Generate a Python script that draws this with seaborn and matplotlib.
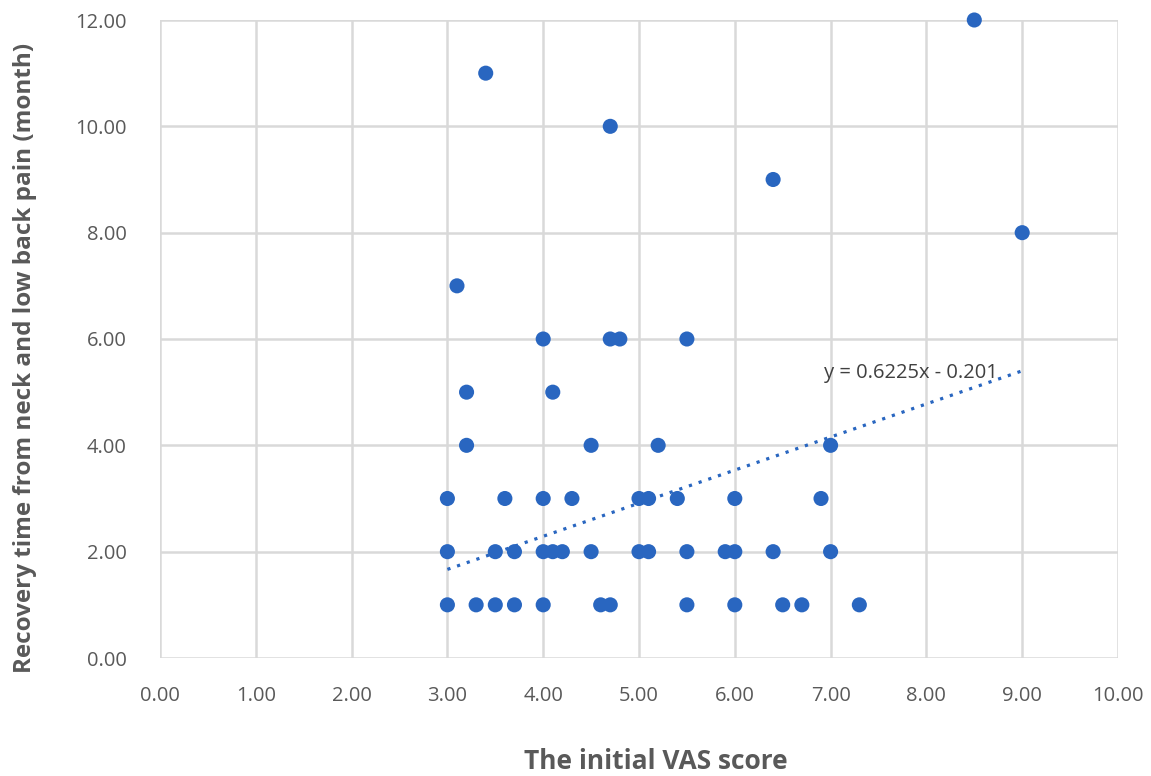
import matplotlib
matplotlib.use("Agg")
import matplotlib.pyplot as plt
import seaborn as sns
import numpy as np
import pandas as pd

# Data
vas = [8.5, 3.4, 4.7, 6.4, 9.0, 3.1,
       4.0, 4.7, 4.8, 5.5,
       3.2, 4.1,
       3.2, 4.5, 5.2, 7.0,
       3.0, 3.6, 4.0, 4.3, 5.0, 5.1, 5.4, 6.0, 6.9,
       3.0, 3.5, 3.7, 4.0, 4.1, 4.2, 4.5, 5.0, 5.1, 5.5, 5.9, 6.0, 6.4, 7.0,
       3.0, 3.3, 3.5, 3.7, 4.0, 4.6, 4.7, 5.5, 6.0, 6.5, 6.7, 7.3]
recovery = [12, 11, 10, 9, 8, 7,
            6, 6, 6, 6,
            5, 5,
            4, 4, 4, 4,
            3, 3, 3, 3, 3, 3, 3, 3, 3,
            2, 2, 2, 2, 2, 2, 2, 2, 2, 2, 2, 2, 2, 2,
            1, 1, 1, 1, 1, 1, 1, 1, 1, 1, 1, 1]
trend_slope = 0.6225
trend_intercept = -0.201
trend_range = [3.0, 9.0]
x_ticks = [0, 1, 2, 3, 4, 5, 6, 7, 8, 9, 10]
y_ticks = [0, 2, 4, 6, 8, 10, 12]

df = pd.DataFrame({"vas": vas, "recovery": recovery})

sns.set_theme(style="white")
plt.rcParams["font.family"] = ["Open Sans", "DejaVu Sans"]

fig = plt.figure(figsize=(11.51, 7.76), dpi=100)
ax = fig.add_axes([160/1151, 1 - 658/776, (1118-160)/1151, (658-20)/776])

blue = "#2966C0"
sns.scatterplot(data=df, x="vas", y="recovery", ax=ax, s=118, color=blue,
                edgecolor="none", zorder=3, clip_on=False)

tx = np.array(trend_range)
ty = trend_slope * tx + trend_intercept
sns.lineplot(x=tx, y=ty, ax=ax, color=blue, linestyle=(0, (1, 2.2)),
             linewidth=2.3, zorder=2)
ax.text(8.75, 5.36, f"y = {trend_slope}x - {abs(trend_intercept)}",
        ha="right", va="center", fontsize=14.5, color="#404040")

ax.set_xlim(0, 10)
ax.set_ylim(0, 12)
ax.set_xticks(x_ticks)
ax.set_yticks(y_ticks)
ax.set_xticklabels([f"{v:.2f}" for v in x_ticks], fontsize=14.5, color="#595959")
ax.set_yticklabels([f"{v:.2f}" for v in y_ticks], fontsize=14.5, color="#595959")
ax.tick_params(axis="x", pad=20, length=0)
ax.tick_params(axis="y", pad=24, length=0)
ax.grid(True, color="#D9D9D9", linewidth=1.8)
ax.set_axisbelow(True)
for s in ax.spines.values():
    s.set_visible(False)

ax.set_xlabel("The initial VAS score", fontsize=19, fontweight="bold",
              color="#595959", va="center")
ax.xaxis.set_label_coords(0.518, -0.162)
ax.set_ylabel("Recovery time from neck and low back pain (month)", fontsize=17.5,
              fontweight="bold", color="#595959", va="center")
ax.yaxis.set_label_coords(-0.141, 0.470)

fig.savefig("out.png", dpi=100)
